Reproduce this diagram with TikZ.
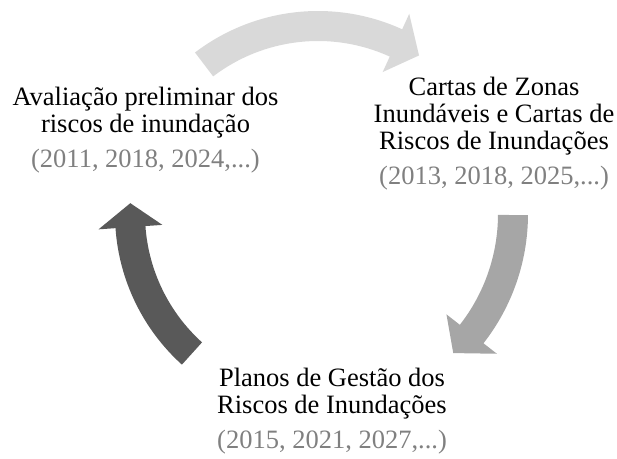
\documentclass[tikz,border=0pt]{standalone}
\usepackage{fontspec}
\setmainfont{Liberation Serif}
\usetikzlibrary{calc}
\definecolor{setaclara}{RGB}{217,217,217}
\definecolor{setamedia}{RGB}{166,166,166}
\definecolor{setaescura}{RGB}{89,89,89}
\definecolor{cinzaanos}{RGB}{128,128,128}

\begin{document}
\begin{tikzpicture}[x=1pt,y=1pt,
	titulo/.style={align=center,inner sep=0pt,anchor=base,font=\fontsize{26.5}{27}\selectfont},
	anos/.style={titulo,text=cinzaanos}]
	\useasboundingbox (0,0) rectangle (617,458);
	\coordinate (C) at (318,244);
	% setas do ciclo
	\fill[setaclara] ($(C)+(127.3:203pt)$) arc[start angle=127.3,end angle=65.5,radius=203pt] -- ($(C)+(65.5:220pt)$) -- ($(C)+(57.5:188pt)$) -- ($(C)+(65.5:156pt)$) -- ($(C)+(65.5:173pt)$) arc[start angle=65.5,end angle=127.3,radius=173pt] -- cycle;
	\fill[setamedia] ($(C)+(-0.3:210pt)$) arc[start angle=-0.3,end angle=-38,radius=210pt] -- ($(C)+(-38:227pt)$) -- ($(C)+(-45.8:194pt)$) -- ($(C)+(-38:163pt)$) -- ($(C)+(-38:180pt)$) arc[start angle=-38,end angle=-0.3,radius=180pt] -- cycle;
	\fill[setaescura] ($(C)+(227.9:203pt)$) arc[start angle=227.9,end angle=184,radius=203pt] -- ($(C)+(184:220pt)$) -- ($(C)+(176.7:188pt)$) -- ($(C)+(184:156pt)$) -- ($(C)+(184:173pt)$) arc[start angle=184,end angle=227.9,radius=173pt] -- cycle;
	% textos
	\node[titulo] (avaliacao) at (145.5,325.7) {Avaliação preliminar dos\\riscos de inundação};
	\node[anos] (anosavaliacao) at (145.5,290.3) {(2011, 2018, 2024,...)};
	\node[titulo] (cartas) at (494,308.7) {Cartas de Zonas\\Inundáveis e Cartas de\\Riscos de Inundações};
	\node[anos] (anoscartas) at (494,273) {(2013, 2018, 2025,...)};
	\node[titulo] (planos) at (332,45) {Planos de Gestão dos\\Riscos de Inundações};
	\node[anos] (anosplanos) at (332,10) {(2015, 2021, 2027,...)};
\end{tikzpicture}
\end{document}
